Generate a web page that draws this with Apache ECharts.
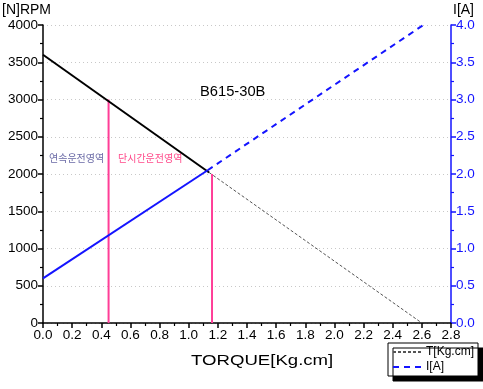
<!DOCTYPE html>
<html><head><meta charset="utf-8">
<script src="https://cdn.jsdelivr.net/npm/echarts@6/dist/echarts.min.js"></script>
<style>html,body{margin:0;padding:0;background:#fff}#c{width:483px;height:389px}</style>
</head><body><div id="c"></div>
<script>
var xTicks = [0,0.2,0.4,0.6,0.8,1.0,1.2,1.4,1.6,1.8,2.0,2.2,2.4,2.6,2.8];
var speedSolid = [[0,3600],[1.14,2020]];
var speedDashed = [[1.14,2020],[2.6,0]];
var currentSolid = [[0,0.6],[1.13,2.05]];
var currentDashed = [[1.13,2.05],[2.61,4.0]];
var limitCont = [[0.45,0],[0.45,3000]];
var limitShort = [[1.16,0],[1.16,2000]];

var chart = echarts.init(document.getElementById('c'));
var F = 'Liberation Sans, Arial, sans-serif';
var blue = '#1414ff';
var pink = '#ff3d97';
chart.setOption({
  animation:false,
  grid:{left:43,right:32,top:25,bottom:66},
  xAxis:{type:'value',min:0,max:2.8,interval:0.2,
    axisLine:{lineStyle:{color:'#000',width:1.5}},
    axisTick:{inside:false,length:5,lineStyle:{color:'#000',width:1.5}},
    minorTick:{show:true,splitNumber:2,length:3,lineStyle:{color:'#000',width:1.2}},
    axisLabel:{color:'#000',fontFamily:F,fontSize:13.5,margin:5,formatter:function(v){return v.toFixed(1);}},
    splitLine:{show:false}},
  yAxis:[{type:'value',min:0,max:4000,interval:500,position:'left',
    axisLine:{show:true,lineStyle:{color:'#000',width:1.5}},
    axisTick:{show:true,length:5,lineStyle:{color:'#000',width:1.5}},
    minorTick:{show:true,splitNumber:2,length:3,lineStyle:{color:'#000',width:1.2}},
    axisLabel:{color:'#000',fontFamily:F,fontSize:13.5,margin:5,formatter:function(v){return String(v);}},
    splitLine:{show:true,lineStyle:{color:'#c8c8c8',type:[1,3],width:1}}},
   {type:'value',min:0,max:4,interval:0.5,position:'right',
    axisLine:{show:true,lineStyle:{color:blue,width:1.5}},
    axisTick:{show:true,length:5,lineStyle:{color:blue,width:1.5}},
    minorTick:{show:true,splitNumber:2,length:3,lineStyle:{color:blue,width:1.2}},
    axisLabel:{color:blue,fontFamily:F,fontSize:13.5,margin:5,formatter:function(v){return v.toFixed(1);}},
    splitLine:{show:false}}],
  legend:{orient:'vertical',left:388,top:343,itemWidth:28,itemHeight:12,itemGap:3,
    padding:[3,4,3,4],backgroundColor:'#fff',borderColor:'#000',borderWidth:1,
    shadowColor:'#000',shadowOffsetX:5,shadowOffsetY:5,shadowBlur:0,
    itemStyle:{opacity:0},
    textStyle:{fontFamily:F,fontSize:12,color:'#000'},
    data:['T[Kg.cm]','I[A]']},
  series:[
    {type:'line',name:'speedSolid',data:speedSolid,symbol:'none',lineStyle:{color:'#000',width:2},z:5},
    {type:'line',name:'T[Kg.cm]',data:speedDashed,symbol:'none',itemStyle:{color:'#000'},lineStyle:{color:'#555',width:1,type:[3,2]}},
    {type:'line',name:'currentSolid',yAxisIndex:1,data:currentSolid,symbol:'none',lineStyle:{color:blue,width:2},z:5},
    {type:'line',name:'I[A]',yAxisIndex:1,data:currentDashed,symbol:'none',itemStyle:{color:blue},lineStyle:{color:blue,width:2,type:[6,5]}},
    {type:'line',name:'cont',data:limitCont,symbol:'none',lineStyle:{color:pink,width:2},z:3},
    {type:'line',name:'short',data:limitShort,symbol:'none',lineStyle:{color:pink,width:2},z:3}
  ],
  graphic:[
    {type:'text',left:2,top:3,style:{text:'[N]RPM',font:'14px '+F,fill:'#000'}},
    {type:'text',left:453,top:3,style:{text:'I[A]',font:'14px '+F,fill:'#000'}},
    {type:'text',x:191,y:353,scaleX:1.24,style:{text:'TORQUE[Kg.cm]',font:'15px '+F,fill:'#000'}},
    {type:'text',x:200,y:85,scaleX:1.05,style:{text:'B615-30B',font:'14px '+F,fill:'#000'}},
    {type:'text',left:49,top:153,style:{text:'연속운전영역',font:'10px "Noto Sans CJK KR"',fill:'#6a6aa6'}},
    {type:'text',left:118,top:153,style:{text:'단시간운전영역',font:'10px "Noto Sans CJK KR"',fill:'#ff4a8a'}}
  ]
});
</script></body></html>
